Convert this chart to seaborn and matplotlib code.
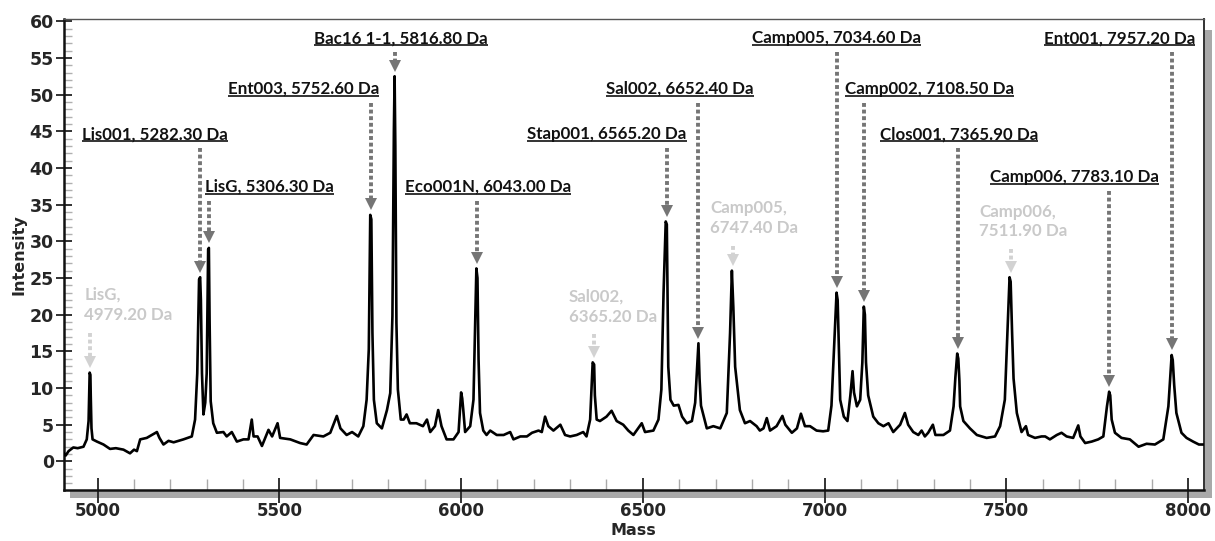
import numpy as np
import pandas as pd
import matplotlib
matplotlib.use("Agg")
import matplotlib.pyplot as plt
from matplotlib.patches import Rectangle
from matplotlib.ticker import MultipleLocator
import seaborn as sns

# ---------------- data ----------------
mass = [4906, 4912, 4920, 4933, 4945, 4961, 4970, 4975, 4978, 4980, 4981, 4983, 4986, 4998, 5016, 5034, 5050,
        5071, 5089, 5100, 5108, 5117, 5135, 5149, 5163, 5170, 5181, 5195, 5209, 5236, 5259, 5268, 5274, 5279,
        5282, 5284, 5287, 5291, 5296, 5300, 5304, 5306, 5308, 5311, 5318, 5328, 5346, 5355, 5369, 5383, 5401,
        5415, 5424, 5429, 5440, 5452, 5470, 5480, 5495, 5502, 5530, 5557, 5575, 5594, 5621, 5640, 5658, 5668,
        5685, 5700, 5717, 5731, 5740, 5746, 5750, 5753, 5756, 5760, 5768, 5782, 5796, 5805, 5811, 5815, 5817,
        5819, 5822, 5826, 5834, 5842, 5850, 5859, 5877, 5895, 5906, 5915, 5928, 5937, 5946, 5960, 5979, 5993,
        6000, 6003, 6006, 6011, 6025, 6034, 6039, 6042, 6045, 6048, 6052, 6061, 6070, 6080, 6098, 6117, 6135,
        6144, 6163, 6181, 6195, 6213, 6222, 6231, 6240, 6254, 6273, 6286, 6300, 6318, 6336, 6345, 6355, 6362,
        6366, 6368, 6373, 6382, 6400, 6414, 6428, 6446, 6460, 6474, 6497, 6506, 6529, 6543, 6551, 6557, 6563,
        6566, 6570, 6576, 6585, 6598, 6608, 6621, 6635, 6644, 6649, 6653, 6656, 6660, 6676, 6694, 6713, 6731,
        6740, 6745, 6749, 6754, 6767, 6781, 6795, 6813, 6822, 6832, 6841, 6850, 6868, 6884, 6892, 6910, 6924,
        6935, 6946, 6960, 6978, 6996, 7010, 7019, 7028, 7033, 7036, 7039, 7043, 7053, 7063, 7071, 7077, 7081,
        7089, 7098, 7104, 7108, 7111, 7114, 7120, 7134, 7148, 7162, 7176, 7189, 7208, 7221, 7230, 7244, 7258,
        7267, 7276, 7285, 7298, 7305, 7327, 7345, 7355, 7360, 7365, 7368, 7371, 7373, 7382, 7400, 7419, 7446,
        7469, 7483, 7496, 7503, 7509, 7512, 7516, 7520, 7529, 7542, 7554, 7560, 7579, 7597, 7607, 7620, 7639,
        7652, 7666, 7684, 7698, 7704, 7717, 7735, 7753, 7767, 7777, 7783, 7786, 7790, 7799, 7817, 7840, 7864,
        7886, 7909, 7932, 7946, 7955, 7958, 7962, 7968, 7982, 7996, 8014, 8030, 8046]
intensity = [1.2, 0.8, 1.4, 1.9, 1.8, 2.0, 3.0, 5.5, 12.1, 11.8, 8.9, 4.5, 3.0, 2.7, 2.3, 1.7, 1.8,
             1.6, 1.1, 1.6, 1.4, 3.0, 3.2, 3.6, 4.0, 3.2, 2.3, 2.8, 2.6, 3.0, 3.4, 5.7, 12.0, 24.8,
             25.1, 22.0, 12.0, 6.4, 8.0, 12.0, 28.9, 29.1, 19.0, 8.2, 5.2, 3.9, 4.0, 3.4, 4.0, 2.7, 3.0,
             3.0, 5.7, 3.4, 3.4, 2.1, 4.3, 3.4, 5.2, 3.2, 3.0, 2.5, 2.3, 3.6, 3.4, 3.9, 6.2, 4.5,
             3.6, 4.0, 3.4, 4.8, 8.4, 15.3, 33.6, 33.0, 17.5, 8.4, 5.2, 4.5, 7.0, 9.3, 19.8, 45.0, 52.5,
             43.0, 18.9, 9.8, 5.7, 5.7, 6.4, 5.2, 5.2, 4.8, 5.7, 4.0, 4.8, 7.0, 4.8, 3.0, 3.0, 4.0,
             9.4, 8.6, 7.0, 4.0, 4.8, 8.4, 20.0, 26.3, 25.0, 13.9, 6.6, 4.2, 3.6, 4.2, 3.6, 3.6, 4.0,
             3.0, 3.4, 3.4, 3.9, 4.2, 4.0, 6.1, 4.8, 4.2, 5.0, 3.6, 3.4, 3.6, 4.0, 3.4, 5.7, 13.5,
             13.2, 9.0, 5.7, 5.5, 6.1, 6.9, 5.5, 5.0, 4.2, 3.6, 5.2, 4.0, 4.2, 5.7, 9.8, 23.0, 32.7,
             32.3, 12.9, 8.4, 7.6, 7.7, 6.1, 5.2, 5.5, 8.0, 12.5, 16.1, 11.3, 7.6, 4.5, 4.8, 4.5, 6.6,
             17.5, 26.0, 21.0, 12.9, 7.0, 5.2, 5.5, 4.8, 4.2, 4.5, 5.9, 4.2, 4.8, 6.2, 5.0, 3.9, 4.5,
             6.5, 4.8, 4.8, 4.2, 4.1, 4.2, 7.6, 17.3, 23.0, 22.0, 16.3, 8.4, 6.1, 5.5, 9.0, 12.3, 9.4,
             7.5, 8.4, 13.5, 21.1, 20.0, 13.5, 9.0, 6.1, 5.2, 4.8, 5.2, 4.0, 5.0, 6.6, 5.0, 4.0, 3.6,
             4.2, 3.4, 3.9, 5.0, 3.6, 3.6, 4.2, 7.5, 11.5, 14.7, 14.0, 11.0, 7.5, 5.5, 4.5, 3.6, 3.2,
             3.4, 4.8, 8.4, 17.3, 25.1, 24.5, 17.5, 11.3, 6.6, 4.0, 4.8, 3.6, 3.2, 3.4, 3.4, 3.0, 3.6,
             3.9, 3.4, 3.2, 4.9, 3.4, 2.5, 2.7, 3.0, 3.4, 7.5, 9.5, 9.0, 5.7, 3.9, 3.2, 3.0, 2.0,
             2.4, 2.3, 3.0, 7.5, 14.5, 13.8, 10.4, 6.6, 3.9, 3.2, 2.7, 2.3, 2.3]

# identified peaks (black labels)
id_names = ["Lis001", "LisG", "Ent003", "Bac16 1-1", "Eco001N", "Stap001",
            "Sal002", "Camp005", "Camp002", "Clos001", "Camp006", "Ent001"]
id_mass = [5282.30, 5306.30, 5752.60, 5816.80, 6043.00, 6565.20,
           6652.40, 7034.60, 7108.50, 7365.90, 7783.10, 7957.20]
id_peak = [25.1, 29.1, 33.6, 52.5, 26.3, 32.7, 16.1, 23.0, 21.1, 14.7, 9.5, 14.5]
id_text_x = [4957, 5296, 5359, 5596, 5846, 6182, 6399, 6801, 7056, 7153, 7455, 7604]
id_text_y = [44.6, 37.4, 50.8, 57.7, 37.4, 44.6, 50.8, 57.7, 50.8, 44.6, 38.8, 57.7]

# unconfirmed peaks (grey labels)
un_names = ["LisG", "Sal002", "Camp005", "Camp006"]
un_mass = [4979.20, 6365.20, 6747.40, 7511.90]
un_peak = [12.1, 13.5, 26.0, 25.1]
un_text_x = [4963, 6297, 6685, 7425]
un_text_y = [21.35, 21.1, 33.2, 32.7]

# ---------------- figure ----------------
sns.set_theme(style="white")
plt.rcParams["font.family"] = ["DejaVu Sans"]

W, H = 1215, 541
fig = plt.figure(figsize=(W / 100, H / 100), dpi=100)
ax = fig.add_axes([63.5 / W, 1 - 490 / H, (1204 - 63.5) / W, (490 - 19) / H])

df = pd.DataFrame({"Mass": mass, "Intensity": intensity})
sns.lineplot(data=df, x="Mass", y="Intensity", ax=ax, color="black", lw=1.9,
             estimator=None, sort=False, zorder=3)

ax.set_xlim(4906, 8044)
ax.set_ylim(-3.9, 60.3)

ax.xaxis.set_major_locator(MultipleLocator(500))
ax.xaxis.set_minor_locator(MultipleLocator(100))
ax.yaxis.set_major_locator(MultipleLocator(5))
ax.yaxis.set_minor_locator(MultipleLocator(1))

ax.tick_params(axis="x", which="major", direction="inout", length=18, width=1.3,
               color="#222222", labelsize=12, pad=0)
ax.tick_params(axis="x", which="minor", direction="in", length=8, width=1.0, color="#aaaaaa")
ax.tick_params(axis="y", which="major", direction="inout", length=12, width=1.3,
               color="#222222", labelsize=12.5, pad=1)
ax.tick_params(axis="y", which="minor", direction="in", length=6, width=1.0, color="#b0b0b0")
ax.tick_params(bottom=True, left=True, which="both")
for lab in ax.get_xticklabels() + ax.get_yticklabels():
    lab.set_fontweight("bold")

ax.set_xlabel("Mass", fontsize=11.5, fontweight="bold", labelpad=1.5)
ax.set_ylabel("Intensity", fontsize=11.5, fontweight="bold", labelpad=2)

for side in ["left", "bottom"]:
    ax.spines[side].set_color("#111111")
    ax.spines[side].set_linewidth(1.8)
ax.spines["top"].set_color("#555555")
ax.spines["top"].set_linewidth(1.0)
ax.spines["right"].set_color("#333333")
ax.spines["right"].set_linewidth(1.4)

# grey "shadow" bands along bottom and right of the frame
ax.add_patch(Rectangle((0.006, -0.018), 1.0, 0.018, transform=ax.transAxes,
                       facecolor="#a9a9a9", edgecolor="none", clip_on=False, zorder=0))
ax.add_patch(Rectangle((1.0, -0.018), 0.007, 0.995, transform=ax.transAxes,
                       facecolor="#a9a9a9", edgecolor="none", clip_on=False, zorder=0))

label_font = ["Lato", "DejaVu Sans"]
dark_txt = "#111111"
dark_arrow = "#757575"
light_txt = "#c9c9c9"
light_arrow = "#d2d2d2"
dot_style = (0, (1.0, 0.7))

texts = []
for name, m, pk, tx, ty in zip(id_names, id_mass, id_peak, id_text_x, id_text_y):
    t = ax.text(tx, ty, f"{name}, {m:.2f} Da", fontsize=12.2, fontweight="bold",
                family=label_font, color=dark_txt, ha="left", va="center", zorder=5)
    texts.append(t)
    top = ty - 1.9
    head = pk + 1.45
    ax.plot([m, m], [top, head], color=dark_arrow, lw=2.8, linestyle=dot_style,
            dash_capstyle="butt", zorder=4)
    ax.plot([m], [head], marker="v", markersize=8.5, color=dark_arrow, zorder=4,
            markeredgewidth=0)

for name, m, pk, tx, ty in zip(un_names, un_mass, un_peak, un_text_x, un_text_y):
    ax.text(tx, ty, f"{name},\n{m:.2f} Da", fontsize=12.2, fontweight="bold",
            family=label_font, color=light_txt, ha="left", va="center",
            linespacing=1.3, zorder=5)
    top = ty - 3.8
    head = pk + 1.45
    ax.plot([m, m], [top, head], color=light_arrow, lw=2.8, linestyle=dot_style,
            dash_capstyle="butt", zorder=4)
    ax.plot([m], [head], marker="v", markersize=8.5, color=light_arrow, zorder=4,
            markeredgewidth=0)

# underline the identified labels
fig.canvas.draw()
renderer = fig.canvas.get_renderer()
inv = ax.transData.inverted()
for t in texts:
    bb = t.get_window_extent(renderer)
    (x0, y0), (x1, _) = inv.transform([(bb.x0, bb.y0 + 1), (bb.x1, bb.y0 + 1)])
    ax.plot([x0, x1], [y0, y0], color=dark_txt, lw=1.2, zorder=5, solid_capstyle="butt")

fig.savefig("out.png", dpi=100)
